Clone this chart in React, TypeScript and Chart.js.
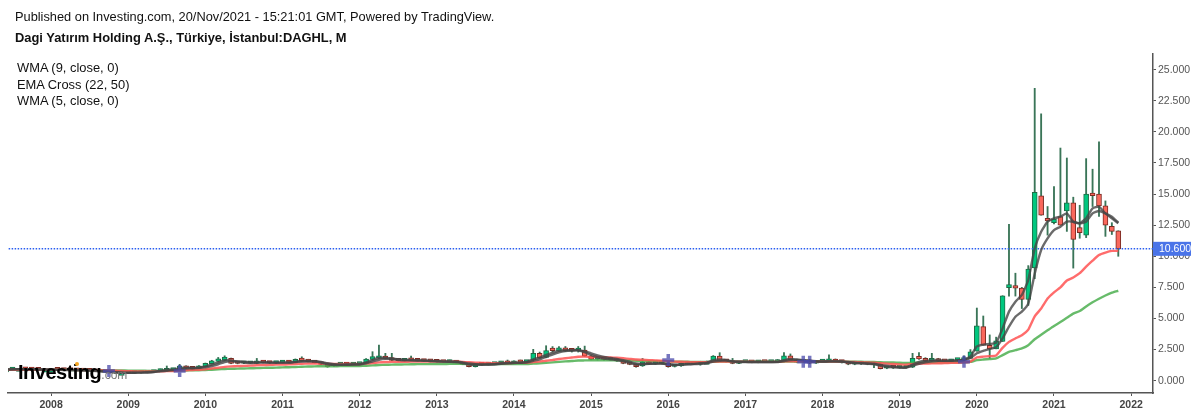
import { useEffect, useRef } from 'react';
import { Chart, registerables } from 'chart.js';

Chart.register(...registerables);

// monthly bars, Jun 2007 .. Nov 2021
const OPEN = [
  0.9, 0.9, 0.95, 0.95, 0.92, 0.9, 0.88,
  0.88, 0.88, 0.87, 0.86, 0.85, 0.84, 0.82, 0.8, 0.76, 0.72, 0.66, 0.62,
  0.62, 0.63, 0.64, 0.66, 0.7, 0.77, 0.8, 0.85, 0.96, 1.12, 1.07, 0.99,
  1.12, 1.36, 1.55, 1.63, 1.79, 1.42, 1.4, 1.4, 1.39, 1.5, 1.45, 1.42,
  1.45, 1.47, 1.47, 1.82, 1.68, 1.52, 1.44, 1.31, 1.18, 1.3, 1.33, 1.3,
  1.33, 1.39, 1.71, 1.8, 1.85, 1.85, 1.66, 1.6, 1.82, 1.62, 1.6, 1.58,
  1.55, 1.52, 1.5, 1.5, 1.44, 1.2, 1.12, 1.32, 1.3, 1.33, 1.39, 1.52,
  1.39, 1.6, 1.5, 1.66, 2.2, 1.87, 2.52, 2.38, 2.65, 2.42, 2.42, 2.46,
  1.98, 1.72, 1.72, 1.72, 1.74, 1.58, 1.44, 1.34, 1.18, 1.52, 1.38, 1.38,
  1.39, 1.14, 1.18, 1.33, 1.36, 1.33, 1.5, 1.52, 1.98, 1.58, 1.6, 1.39,
  1.5, 1.5, 1.48, 1.5, 1.49, 1.5, 1.53, 1.99, 1.67, 1.48, 1.67, 1.4,
  1.53, 1.55, 1.72, 1.53, 1.45, 1.32, 1.38, 1.36, 1.32, 1.32, 1.0, 1.1,
  1.05, 1.06, 1.08, 1.83, 1.75, 1.6, 1.6, 1.58, 1.55, 1.65, 1.65, 1.79,
  2.37, 4.35, 2.85, 2.56, 3.15, 7.47, 7.65, 7.44, 6.53, 9.07, 14.85, 12.9,
  12.7, 13.2, 13.65, 14.3, 12.3, 11.7, 15.0, 15.0, 14.05, 12.4, 12.05,
];
const CLOSE = [
  0.9, 0.95, 0.95, 0.92, 0.9, 0.88, 0.88,
  0.88, 0.87, 0.86, 0.85, 0.84, 0.82, 0.8, 0.76, 0.72, 0.66, 0.62, 0.62,
  0.63, 0.64, 0.66, 0.7, 0.77, 0.9, 0.91, 0.92, 1.18, 1.0, 0.96, 1.18,
  1.39, 1.6, 1.66, 1.9, 1.39, 1.38, 1.42, 1.43, 1.55, 1.45, 1.42, 1.45,
  1.48, 1.46, 1.71, 1.6, 1.53, 1.45, 1.31, 1.12, 1.31, 1.33, 1.3, 1.33,
  1.39, 1.74, 1.93, 1.93, 1.78, 1.63, 1.6, 1.65, 1.63, 1.6, 1.58, 1.55,
  1.52, 1.5, 1.54, 1.45, 1.31, 1.12, 1.34, 1.3, 1.33, 1.35, 1.52, 1.39,
  1.55, 1.47, 1.56, 2.2, 1.85, 2.41, 2.41, 2.65, 2.41, 2.4, 2.48, 1.98,
  1.71, 1.75, 1.7, 1.68, 1.58, 1.39, 1.31, 1.12, 1.52, 1.34, 1.4, 1.42,
  1.12, 1.26, 1.39, 1.36, 1.33, 1.52, 1.5, 1.98, 1.6, 1.55, 1.39, 1.52,
  1.52, 1.48, 1.5, 1.49, 1.5, 1.55, 1.99, 1.67, 1.48, 1.67, 1.4, 1.53,
  1.55, 1.58, 1.53, 1.5, 1.32, 1.4, 1.36, 1.32, 1.3, 0.97, 1.1, 1.05,
  1.06, 1.08, 1.8, 1.75, 1.59, 1.62, 1.58, 1.55, 1.68, 1.66, 1.84, 2.32,
  4.4, 2.85, 2.56, 3.2, 6.83, 7.73, 7.44, 6.53, 8.98, 15.15, 13.3, 12.85,
  13.0, 12.5, 14.3, 11.35, 11.9, 15.0, 14.87, 14.05, 12.5, 12.0, 10.6,
];
const HIGH = [
  0.92, 1.0, 0.98, 0.97, 0.95, 0.92, 0.9,
  0.92, 0.9, 0.9, 0.88, 0.88, 0.86, 0.84, 0.82, 0.78, 0.74, 0.68, 0.66,
  0.66, 0.66, 0.7, 0.74, 0.8, 0.94, 1.18, 0.96, 1.31, 1.2, 1.12, 1.22,
  1.42, 1.64, 1.87, 2.0, 1.82, 1.45, 1.46, 1.5, 1.79, 1.55, 1.5, 1.5,
  1.6, 1.55, 1.75, 1.92, 1.72, 1.55, 1.46, 1.34, 1.35, 1.4, 1.38, 1.38,
  1.42, 1.78, 2.33, 2.87, 2.2, 2.2, 1.72, 1.72, 1.98, 1.68, 1.65, 1.62,
  1.6, 1.56, 1.66, 1.56, 1.48, 1.25, 1.38, 1.4, 1.38, 1.42, 1.56, 1.66,
  1.6, 1.66, 1.62, 2.52, 2.3, 2.81, 2.74, 2.75, 2.75, 2.5, 2.75, 2.78,
  2.02, 1.82, 1.8, 1.76, 1.78, 1.62, 1.46, 1.36, 1.79, 1.58, 1.48, 1.5,
  1.48, 1.3, 1.46, 1.45, 1.42, 1.56, 1.58, 2.02, 2.25, 1.64, 1.79, 1.55,
  1.58, 1.55, 1.55, 1.55, 1.54, 1.7, 2.25, 2.15, 1.72, 1.72, 1.72, 1.56,
  1.62, 2.07, 1.75, 1.56, 1.48, 1.42, 1.42, 1.4, 1.38, 1.36, 1.14, 1.14,
  1.12, 1.14, 2.2, 2.26, 1.85, 2.2, 1.8, 1.64, 1.72, 1.8, 2.0, 2.5,
  5.84, 5.2, 3.68, 3.5, 6.83, 12.57, 8.64, 7.5, 9.25, 23.5, 21.45, 14.0,
  15.6, 18.7, 17.9, 14.75, 14.1, 17.85, 17.0, 19.2, 14.45, 12.7, 12.05,
];
const LOW = [
  0.88, 0.88, 0.9, 0.9, 0.88, 0.85, 0.85,
  0.84, 0.85, 0.84, 0.83, 0.82, 0.8, 0.78, 0.74, 0.7, 0.62, 0.58, 0.58,
  0.58, 0.6, 0.62, 0.64, 0.68, 0.75, 0.78, 0.82, 0.92, 0.98, 0.93, 0.96,
  1.1, 1.34, 1.5, 1.6, 1.36, 1.35, 1.36, 1.37, 1.36, 1.42, 1.38, 1.38,
  1.42, 1.42, 1.44, 1.56, 1.5, 1.42, 1.28, 1.08, 1.15, 1.26, 1.27, 1.27,
  1.3, 1.36, 1.68, 1.76, 1.74, 1.6, 1.56, 1.56, 1.6, 1.56, 1.54, 1.5,
  1.48, 1.46, 1.46, 1.42, 1.28, 1.1, 1.1, 1.26, 1.27, 1.3, 1.36, 1.36,
  1.36, 1.44, 1.46, 1.6, 1.8, 1.84, 2.3, 2.35, 2.35, 2.3, 2.3, 1.94,
  1.68, 1.66, 1.64, 1.64, 1.55, 1.36, 1.28, 1.08, 1.15, 1.3, 1.32, 1.34,
  1.08, 1.1, 1.15, 1.28, 1.28, 1.24, 1.45, 1.48, 1.56, 1.5, 1.36, 1.36,
  1.45, 1.44, 1.44, 1.46, 1.45, 1.46, 1.5, 1.62, 1.44, 1.44, 1.36, 1.38,
  1.5, 1.5, 1.5, 1.42, 1.28, 1.28, 1.3, 1.28, 1.04, 0.94, 0.96, 0.98,
  1.0, 1.02, 1.05, 1.7, 1.55, 1.52, 1.52, 1.5, 1.5, 1.58, 1.58, 1.79,
  2.37, 2.85, 1.79, 2.56, 3.15, 6.8, 6.8, 5.8, 6.05, 8.2, 13.3, 11.7,
  12.6, 12.5, 12.0, 9.05, 11.45, 11.5, 14.0, 13.2, 11.6, 11.75, 10.0,
];

const WMA5 = [
  0.9, 0.92, 0.93, 0.93, 0.92, 0.9, 0.89,
  0.88, 0.87, 0.86, 0.85, 0.84, 0.83, 0.81, 0.78, 0.74, 0.7, 0.66, 0.63,
  0.63, 0.64, 0.65, 0.68, 0.72, 0.8, 0.86, 0.9, 1.0, 1.05, 1.02, 1.05,
  1.15, 1.3, 1.47, 1.65, 1.62, 1.52, 1.46, 1.42, 1.45, 1.47, 1.46, 1.44,
  1.45, 1.46, 1.53, 1.58, 1.58, 1.55, 1.46, 1.32, 1.27, 1.27, 1.3, 1.32,
  1.34, 1.48, 1.67, 1.82, 1.83, 1.76, 1.68, 1.63, 1.63, 1.62, 1.6, 1.58,
  1.55, 1.53, 1.52, 1.5, 1.42, 1.3, 1.28, 1.28, 1.3, 1.32, 1.4, 1.42,
  1.45, 1.45, 1.5, 1.72, 1.85, 2.08, 2.25, 2.42, 2.45, 2.45, 2.45, 2.3,
  2.05, 1.88, 1.77, 1.72, 1.66, 1.55, 1.43, 1.28, 1.32, 1.36, 1.38, 1.4,
  1.3, 1.26, 1.3, 1.34, 1.35, 1.4, 1.45, 1.65, 1.7, 1.65, 1.53, 1.5,
  1.5, 1.5, 1.5, 1.5, 1.5, 1.51, 1.65, 1.75, 1.7, 1.65, 1.55, 1.53,
  1.53, 1.55, 1.55, 1.54, 1.46, 1.42, 1.39, 1.36, 1.33, 1.2, 1.12, 1.08,
  1.05, 1.05, 1.3, 1.5, 1.6, 1.63, 1.62, 1.59, 1.6, 1.63, 1.7, 1.95,
  2.75, 2.9, 2.95, 3.05, 4.2, 5.55, 6.35, 6.89, 8.09, 10.64, 11.98, 12.78,
  13.05, 13.18, 13.45, 12.78, 12.65, 13.05, 13.85, 13.99, 13.45, 13.05, 12.65,
];
const WMA9 = [
  0.9, 0.91, 0.92, 0.92, 0.92, 0.91, 0.9,
  0.89, 0.88, 0.87, 0.86, 0.85, 0.84, 0.83, 0.8, 0.77, 0.73, 0.69, 0.66,
  0.64, 0.64, 0.65, 0.66, 0.69, 0.75, 0.8, 0.85, 0.92, 0.98, 1.0, 1.03,
  1.08, 1.18, 1.32, 1.5, 1.55, 1.55, 1.52, 1.48, 1.47, 1.47, 1.46, 1.45,
  1.45, 1.45, 1.49, 1.54, 1.56, 1.56, 1.5, 1.4, 1.33, 1.29, 1.28, 1.29,
  1.3, 1.4, 1.54, 1.68, 1.76, 1.76, 1.72, 1.68, 1.66, 1.64, 1.62, 1.6,
  1.58, 1.55, 1.54, 1.52, 1.47, 1.38, 1.33, 1.3, 1.3, 1.31, 1.36, 1.39,
  1.42, 1.44, 1.47, 1.6, 1.72, 1.92, 2.1, 2.28, 2.38, 2.42, 2.44, 2.35,
  2.2, 2.04, 1.9, 1.82, 1.74, 1.64, 1.52, 1.38, 1.35, 1.36, 1.36, 1.38,
  1.33, 1.29, 1.29, 1.31, 1.33, 1.36, 1.4, 1.53, 1.6, 1.62, 1.56, 1.53,
  1.51, 1.5, 1.5, 1.5, 1.5, 1.5, 1.58, 1.66, 1.67, 1.65, 1.6, 1.56,
  1.54, 1.55, 1.55, 1.54, 1.5, 1.45, 1.42, 1.39, 1.36, 1.27, 1.2, 1.14,
  1.08, 1.06, 1.2, 1.36, 1.48, 1.56, 1.6, 1.6, 1.6, 1.62, 1.66, 1.82,
  2.2, 2.4, 2.55, 2.7, 3.4, 4.34, 5.14, 5.55, 6.2, 8.6, 10.5, 11.44,
  12.1, 12.38, 12.78, 12.78, 12.65, 12.78, 13.45, 13.64, 13.45, 13.18, 12.7,
];
const EMA22 = [
  0.88, 0.88, 0.88, 0.88, 0.88, 0.88, 0.88,
  0.88, 0.88, 0.87, 0.87, 0.86, 0.86, 0.85, 0.84, 0.83, 0.82, 0.8, 0.78,
  0.76, 0.75, 0.74, 0.74, 0.74, 0.75, 0.77, 0.78, 0.81, 0.84, 0.86, 0.88,
  0.92, 0.98, 1.04, 1.11, 1.15, 1.17, 1.19, 1.21, 1.24, 1.26, 1.27, 1.29,
  1.3, 1.31, 1.34, 1.36, 1.38, 1.39, 1.38, 1.36, 1.35, 1.35, 1.34, 1.34,
  1.34, 1.38, 1.42, 1.47, 1.5, 1.51, 1.52, 1.52, 1.53, 1.54, 1.54, 1.54,
  1.54, 1.54, 1.53, 1.53, 1.51, 1.48, 1.45, 1.43, 1.42, 1.41, 1.42, 1.42,
  1.43, 1.43, 1.44, 1.5, 1.54, 1.6, 1.66, 1.74, 1.8, 1.86, 1.92, 1.93,
  1.91, 1.9, 1.88, 1.86, 1.84, 1.8, 1.75, 1.7, 1.68, 1.65, 1.63, 1.61,
  1.56, 1.53, 1.52, 1.5, 1.49, 1.49, 1.49, 1.53, 1.54, 1.54, 1.52, 1.52,
  1.52, 1.52, 1.51, 1.51, 1.51, 1.51, 1.55, 1.56, 1.55, 1.56, 1.54, 1.54,
  1.54, 1.54, 1.54, 1.54, 1.51, 1.5, 1.48, 1.47, 1.45, 1.4, 1.37, 1.34,
  1.31, 1.29, 1.33, 1.36, 1.38, 1.39, 1.4, 1.41, 1.43, 1.44, 1.47, 1.54,
  1.87, 1.93, 1.97, 2.03, 2.64, 3.12, 3.4, 3.65, 4.1, 5.17, 5.8, 6.6,
  7.1, 7.5, 8.05, 8.3, 8.64, 9.17, 9.65, 10.1, 10.3, 10.43, 10.43,
];
const EMA50 = [
  0.87, 0.87, 0.87, 0.87, 0.87, 0.87, 0.87,
  0.87, 0.87, 0.87, 0.86, 0.86, 0.86, 0.85, 0.85, 0.84, 0.84, 0.83, 0.82,
  0.81, 0.8, 0.8, 0.79, 0.79, 0.79, 0.8, 0.8, 0.81, 0.82, 0.83, 0.84,
  0.86, 0.88, 0.91, 0.94, 0.96, 0.97, 0.98, 1.0, 1.01, 1.03, 1.04, 1.05,
  1.07, 1.08, 1.1, 1.12, 1.14, 1.15, 1.16, 1.16, 1.16, 1.17, 1.17, 1.18,
  1.18, 1.2, 1.23, 1.26, 1.28, 1.29, 1.3, 1.31, 1.32, 1.33, 1.33, 1.34,
  1.34, 1.34, 1.35, 1.35, 1.35, 1.34, 1.34, 1.33, 1.33, 1.33, 1.33, 1.33,
  1.33, 1.34, 1.34, 1.37, 1.39, 1.43, 1.47, 1.51, 1.55, 1.58, 1.62, 1.63,
  1.64, 1.64, 1.64, 1.64, 1.64, 1.63, 1.62, 1.6, 1.59, 1.58, 1.57, 1.56,
  1.55, 1.53, 1.53, 1.52, 1.51, 1.51, 1.51, 1.52, 1.53, 1.53, 1.53, 1.53,
  1.52, 1.52, 1.52, 1.52, 1.52, 1.52, 1.53, 1.54, 1.54, 1.54, 1.54, 1.54,
  1.54, 1.54, 1.54, 1.54, 1.53, 1.52, 1.52, 1.51, 1.5, 1.48, 1.47, 1.46,
  1.44, 1.43, 1.44, 1.45, 1.45, 1.46, 1.46, 1.46, 1.47, 1.47, 1.48, 1.51,
  1.65, 1.7, 1.74, 1.79, 2.05, 2.32, 2.45, 2.59, 2.85, 3.33, 3.7, 4.05,
  4.4, 4.72, 5.05, 5.39, 5.6, 5.97, 6.3, 6.59, 6.85, 7.07, 7.23,
];

// EMA cross markers: months counted from Jan 2008, and price
const CROSS_MONTHS = [9, 20, 96, 117, 118, 142];
const CROSS_PRICES = [0.78, 0.78, 1.66, 1.53, 1.53, 1.53];

const LAST_PRICE = 10.6;
const Y_TICKS = [0, 2.5, 5, 7.5, 10, 12.5, 15, 17.5, 20, 22.5, 25];
const YEARS = [2008, 2009, 2010, 2011, 2012, 2013, 2014, 2015, 2016, 2017, 2018, 2019, 2020, 2021, 2022];

const FIRST_MONTH = -7; // Jun 2007, relative to Jan 2008
const xOf = (i: number) => i + FIRST_MONTH;
const FONT = '"Liberation Sans", Arial, sans-serif';

const priceTag = {
  id: 'priceTag',
  afterDraw(chart: Chart) {
    const { ctx, scales } = chart;
    const y = scales.y.getPixelForValue(LAST_PRICE);
    const left = chart.chartArea.right;
    ctx.save();
    ctx.fillStyle = '#4a74e8';
    ctx.fillRect(left, y - 7, 38, 14);
    ctx.fillStyle = '#fff';
    ctx.font = `10.5px ${FONT}`;
    ctx.textBaseline = 'middle';
    ctx.fillText(LAST_PRICE.toFixed(3), left + 6, y + 0.5);
    ctx.restore();
  },
};

export default function App() {
  const ref = useRef<HTMLCanvasElement>(null);

  useEffect(() => {
    if (!ref.current) return;
    const up = OPEN.map((o, i) => CLOSE[i] >= o);
    const line = (label: string, values: number[], color: string, width: number, order: number) => ({
      type: 'line' as const,
      label,
      data: values.map((v, i) => ({ x: xOf(i), y: v })),
      borderColor: color,
      borderWidth: width,
      pointRadius: 0,
      tension: 0.15,
      order,
    });
    const chart = new Chart(ref.current, {
      type: 'bar',
      data: {
        datasets: [
          {
            type: 'scatter',
            label: 'Cross',
            data: CROSS_MONTHS.map((m, i) => ({ x: m, y: CROSS_PRICES[i] })),
            pointStyle: 'cross',
            pointRadius: 6,
            borderColor: 'rgba(72,72,170,0.75)',
            borderWidth: 3.5,
            order: 0,
          },
          line('WMA 5', WMA5, 'rgba(70,70,70,0.8)', 2.4, 1),
          line('WMA 9', WMA9, 'rgba(70,70,70,0.8)', 2.4, 2),
          line('EMA 22', EMA22, 'rgba(255,82,82,0.85)', 2.4, 3),
          line('EMA 50', EMA50, 'rgba(76,175,80,0.85)', 2.4, 4),
          {
            type: 'line',
            label: 'Last',
            data: [{ x: -8, y: LAST_PRICE }, { x: 172, y: LAST_PRICE }],
            borderColor: '#2a5ff0',
            borderWidth: 1.4,
            borderDash: [1.5, 1.5],
            pointRadius: 0,
            order: 5,
          },
          {
            label: 'Body',
            data: OPEN.map((o, i) => ({ x: xOf(i), y: [o, CLOSE[i]] })),
            backgroundColor: up.map(u => (u ? '#00c77f' : '#f9685c')),
            borderColor: up.map(u => (u ? '#1f6b45' : '#7a2a22')),
            borderWidth: 1,
            borderSkipped: false,
            barThickness: 5,
            minBarLength: 2.5,
            grouped: false,
            order: 6,
          },
          {
            label: 'Wick',
            data: LOW.map((l, i) => ({ x: xOf(i), y: [l, HIGH[i]] })),
            backgroundColor: '#3a7558',
            borderWidth: 0,
            barThickness: 1.2,
            grouped: false,
            order: 7,
          },
        ],
      } as any,
      options: {
        responsive: false,
        animation: false,
        layout: { autoPadding: false, padding: { left: 8, top: 54, right: 0, bottom: 0 } },
        plugins: { legend: { display: false }, tooltip: { enabled: false } },
        scales: {
          x: {
            type: 'linear',
            offset: false,
            min: -6.7,
            max: 171.4,
            grid: { offset: false, drawOnChartArea: false, color: '#555', tickLength: 3 },
            border: { color: '#555', width: 1.5 },
            afterBuildTicks: (s: any) => { s.ticks = YEARS.map((_, i) => ({ value: i * 12 })); },
            // no extra room for the outer labels, the plot edges stay put
            afterFit: (s: any) => { s.height = 22; s.paddingLeft = 0; s.paddingRight = 0; },
            ticks: {
              autoSkip: false,
              maxRotation: 0,
              padding: 3,
              color: '#444',
              font: { family: FONT, size: 10.5, weight: 'bold' },
              callback: (v: any) => String(YEARS[Number(v) / 12]),
            },
          },
          y: {
            position: 'right',
            min: -0.99,
            max: 26.26,
            grid: { drawOnChartArea: false, color: '#555', tickLength: 3 },
            border: { color: '#555', width: 1.5 },
            afterBuildTicks: (s: any) => { s.ticks = Y_TICKS.map(value => ({ value })); },
            afterFit: (s: any) => { s.width = 47; s.paddingTop = 0; s.paddingBottom = 0; },
            ticks: {
              padding: 2,
              color: '#555',
              font: { family: FONT, size: 10.5 },
              callback: (v: any) => Number(v).toFixed(3),
            },
          },
        },
      } as any,
      plugins: [priceTag],
    });
    return () => { chart.destroy(); };
  }, []);

  return (
    <div style={{ position: 'absolute', left: 0, top: 0, width: 1200, height: 415, background: '#fff', overflow: 'hidden', fontFamily: FONT, color: '#111' }}>
      <canvas ref={ref} width={1200} height={415} style={{ display: 'block' }} />
      <div style={{ position: 'absolute', left: 15, top: 9, fontSize: 12.8, whiteSpace: 'nowrap' }}>Published on Investing.com, 20/Nov/2021 - 15:21:01 GMT, Powered by TradingView.</div>
      <div style={{ position: 'absolute', left: 15, top: 30, fontSize: 12.9, fontWeight: 700, whiteSpace: 'nowrap' }}>Dagi Yatırım Holding A.Ş., Türkiye, İstanbul:DAGHL, M</div>
      <div style={{ position: 'absolute', left: 17, top: 60, fontSize: 12.9, lineHeight: '16.5px', whiteSpace: 'nowrap' }}>
        <div>WMA (9, close, 0)</div>
        <div>EMA Cross (22, 50)</div>
        <div>WMA (5, close, 0)</div>
      </div>
      <div style={{ position: 'absolute', left: 18, top: 360, fontSize: 20, fontWeight: 700, letterSpacing: -0.5, color: '#000', whiteSpace: 'nowrap', lineHeight: '24px' }}>
        Investing<span style={{ fontSize: 12, fontWeight: 400, letterSpacing: 0, color: '#777' }}>.com</span>
      </div>
      <div style={{ position: 'absolute', left: 75, top: 362, width: 4, height: 4, borderRadius: 2, background: '#f5a623' }} />
    </div>
  );
}
